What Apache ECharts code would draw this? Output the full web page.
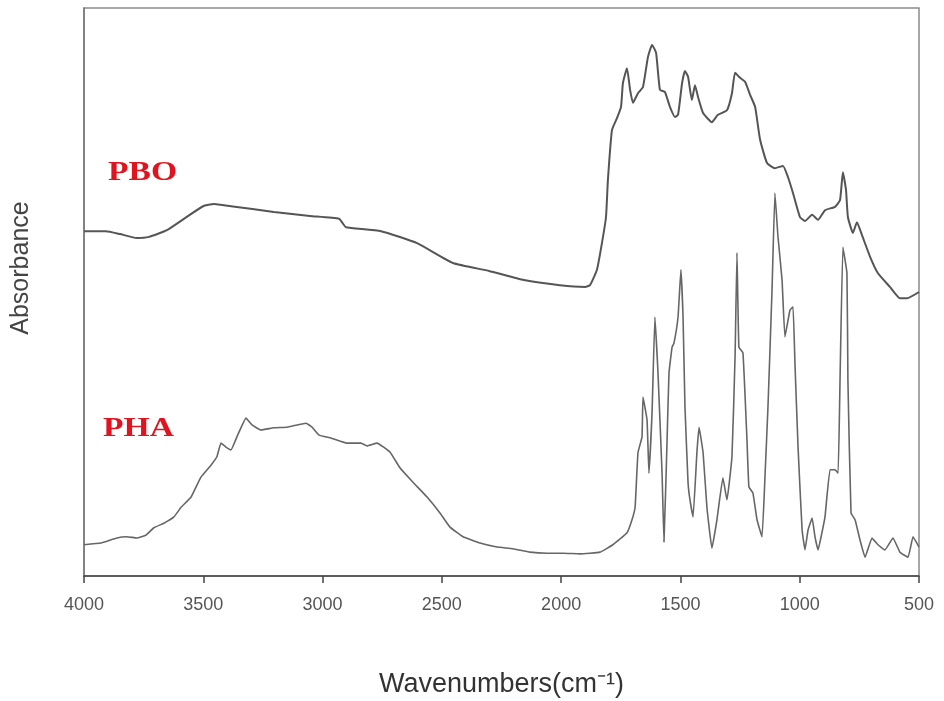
<!DOCTYPE html>
<html>
<head>
<meta charset="utf-8">
<script src="https://cdn.jsdelivr.net/npm/echarts@6/dist/echarts.min.js"></script>
<style>
  html, body { margin: 0; padding: 0; background: #fff; }
  #chart { width: 944px; height: 701px; }
</style>
</head>
<body>
<div id="chart"></div>
<script>
// FTIR spectra (arbitrary absorbance units, curves offset vertically)
const pboWavenumber = [4000,3908,3849,3778,3728,3652,3577,3501,3455,3384,3204,3053,2931,2914,2902,2755,2604,2453,2302,2156,2005,1900,1879,1850,1829,1812,1804,1787,1766,1749,1741,1724,1711,1699,1678,1657,1636,1619,1602,1586,1565,1544,1523,1510,1493,1481,1468,1452,1439,1426,1405,1368,1343,1305,1284,1271,1250,1229,1208,1187,1166,1137,1104,1070,1049,1028,999,978,948,923,894,852,831,819,806,798,777,760,739,705,672,622,580,550,500];
const pboAbsorbance = [60.7,60.7,60.2,59.5,59.7,60.9,63.0,65.1,65.5,65.1,64.1,63.4,62.9,62.0,61.4,60.7,58.6,55.1,53.7,52.1,51.2,50.9,51.2,53.9,58.6,63.2,69.7,78.5,80.6,82.6,86.8,89.4,85.6,83.3,85.0,86.1,91.4,93.5,92.1,85.6,85.2,82.6,80.8,81.2,86.8,88.9,87.9,83.8,86.4,84.3,81.5,79.9,81.2,82.0,85.0,88.6,87.7,87.0,84.7,82.6,76.8,72.7,71.8,72.2,70.2,67.4,63.2,62.5,63.6,62.7,64.4,65.0,66.2,71.1,68.0,63.2,60.4,62.3,60.0,56.2,53.3,50.9,48.9,48.9,50.0];

const phaWavenumber = [4000,3929,3862,3820,3778,3740,3707,3665,3623,3593,3551,3510,3468,3443,3426,3405,3384,3359,3321,3296,3258,3204,3149,3107,3069,3044,3015,2965,2898,2839,2814,2772,2717,2675,2621,2562,2508,2466,2411,2340,2269,2202,2131,2059,1992,1921,1837,1783,1724,1703,1690,1678,1661,1657,1640,1632,1619,1607,1594,1577,1569,1556,1548,1535,1527,1510,1498,1489,1481,1468,1460,1447,1431,1422,1405,1389,1368,1347,1322,1305,1284,1271,1263,1255,1238,1221,1213,1196,1179,1158,1145,1133,1116,1104,1091,1074,1062,1041,1028,1020,1007,990,978,965,948,936,923,907,894,873,852,839,831,819,802,798,785,768,747,726,697,672,643,609,580,546,525,500];
const phaAbsorbance = [5.5,5.8,6.7,6.9,6.7,7.2,8.5,9.3,10.4,12.1,13.9,17.4,19.5,21.0,23.4,22.7,22.2,24.5,27.8,26.6,25.7,26.1,26.2,26.6,26.9,26.2,24.8,24.3,23.4,23.4,22.9,23.4,21.8,19.0,16.5,13.9,11.1,8.6,6.9,5.8,5.1,4.8,4.2,4.0,4.0,3.9,4.2,5.5,7.6,9.9,12.1,21.7,24.5,31.5,27.5,18.1,28.7,45.6,35.7,18.1,6.0,23.9,35.7,40.3,41.0,45.6,53.9,45.6,29.8,16.4,13.4,10.4,21.7,26.2,21.7,12.1,4.9,9.9,17.3,13.4,21.0,38.6,56.9,40.3,39.3,23.9,15.7,14.6,9.9,6.9,18.1,29.8,50.4,67.4,59.7,52.1,42.1,46.8,47.4,37.5,22.7,8.1,4.6,8.1,10.2,6.9,4.6,7.6,10.4,18.7,18.7,18.1,34.5,57.9,53.3,34.5,11.1,9.9,6.3,3.3,6.7,5.5,4.6,6.7,4.2,3.3,6.9,5.1];

const xTicks = { min: 500, max: 4000, step: 500 };
const sampleNames = ['PBO', 'PHA'];

function pairs(xs, ys) {
  return xs.map((x, i) => [x, ys[i]]);
}

const chart = echarts.init(document.getElementById('chart'), null, { renderer: 'canvas' });

const labelFont = '"Liberation Sans", Arial, sans-serif';
const sampleFont = 'bold 28px "Liberation Serif", "DejaVu Serif", serif';

chart.setOption({
  animation: false,
  backgroundColor: '#ffffff',
  grid: {
    left: 84, right: 25, top: 8, bottom: 125,
    outerBoundsMode: 'none',
    containLabel: false,
    show: true,
    borderColor: '#8a8a8a',
    borderWidth: 1.5
  },
  xAxis: {
    type: 'value',
    inverse: true,
    min: xTicks.min,
    max: xTicks.max,
    interval: xTicks.step,
    name: 'Wavenumbers(cm\u207B\u00B9)',
    nameLocation: 'middle',
    nameGap: 95,
    nameTextStyle: { fontFamily: labelFont, fontSize: 27, color: '#333' },
    axisLine: { show: true, onZero: false, lineStyle: { color: '#444', width: 1.5 } },
    axisTick: { show: true, inside: false, length: 7, lineStyle: { color: '#444', width: 1.5 } },
    axisLabel: {
      fontFamily: labelFont, fontSize: 18, color: '#555', margin: 20,
      formatter: (v) => String(v)
    },
    splitLine: { show: false }
  },
  yAxis: {
    type: 'value',
    min: 0,
    max: 100,
    axisLine: { show: true, lineStyle: { color: '#777', width: 1.5 } },
    axisTick: { show: false },
    axisLabel: { show: false },
    splitLine: { show: false }
  },
  series: [
    {
      name: sampleNames[0],
      type: 'line',
      data: pairs(pboWavenumber, pboAbsorbance),
      showSymbol: false,
      smooth: 0.15,
      lineStyle: { color: '#555', width: 2 }
    },
    {
      name: sampleNames[1],
      type: 'line',
      data: pairs(phaWavenumber, phaAbsorbance),
      showSymbol: false,
      smooth: 0.1,
      lineStyle: { color: '#666', width: 1.6 }
    }
  ],
  graphic: [
    {
      // y-axis title, rotated
      type: 'text',
      x: 21, y: 268,
      rotation: Math.PI / 2,
      style: {
        text: 'Absorbance', fill: '#444',
        font: '25px "Liberation Sans", Arial, sans-serif',
        align: 'center', verticalAlign: 'middle'
      }
    },
    {
      type: 'text', x: 108, y: 173, scaleX: 1.2,
      style: {
        text: sampleNames[0], fill: '#e0141e', font: sampleFont,
        align: 'left', verticalAlign: 'middle'
      }
    },
    {
      type: 'text', x: 103, y: 429, scaleX: 1.2,
      style: {
        text: sampleNames[1], fill: '#e0141e', font: sampleFont,
        align: 'left', verticalAlign: 'middle'
      }
    }
  ]
});
</script>
</body>
</html>
